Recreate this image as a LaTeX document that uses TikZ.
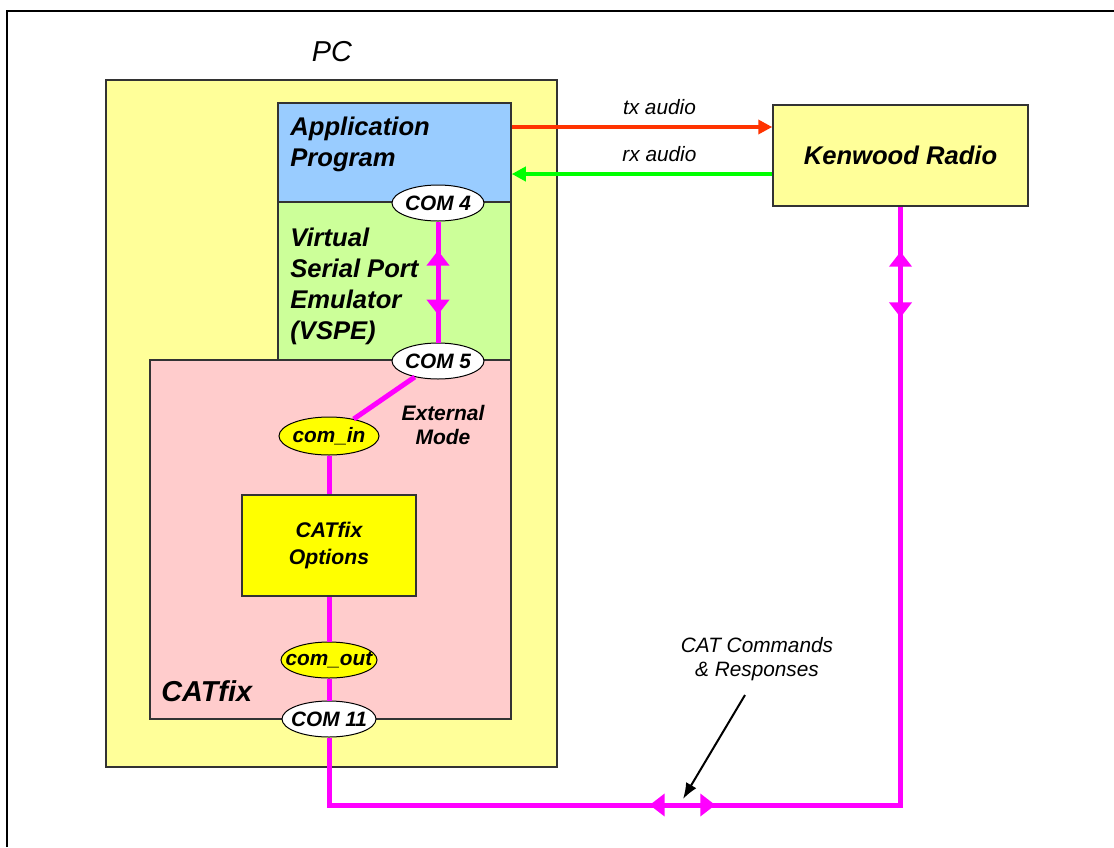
\documentclass[tikz,border=0pt]{standalone}
\usepackage{fontspec}
\setmainfont{Liberation Sans}
\usetikzlibrary{shapes.geometric,arrows.meta,decorations.markings,calc}
\definecolor{pcyellow}{HTML}{FFFF99}
\definecolor{appblue}{HTML}{99CCFF}
\definecolor{vspegreen}{HTML}{CCFF99}
\definecolor{catpink}{HTML}{FFCCCC}
\definecolor{optyellow}{HTML}{FFFF00}
\definecolor{txred}{HTML}{FF3300}
\definecolor{rxgreen}{HTML}{00FF00}
\definecolor{magline}{HTML}{FF00FF}
\definecolor{boxline}{HTML}{333333}
\begin{document}
\begin{tikzpicture}[x=0.5pt,y=-0.5pt,
  box/.style={rectangle, draw=boxline, line width=0.75pt, inner sep=0pt},
  port/.style={ellipse, draw=black, line width=0.5pt, fill=white, inner xsep=-12pt, inner ysep=-4pt,
    font=\fontsize{10.4}{13}\selectfont\bfseries\itshape},
  bigtext/.style={inner sep=0pt, align=left, font=\fontsize{12.8}{15.5}\selectfont\bfseries\itshape},
  smalltext/.style={inner sep=0pt, align=center, font=\fontsize{10.5}{12}\selectfont\bfseries\itshape},
  plaintext/.style={inner sep=0pt, align=center, font=\fontsize{10.4}{12}\selectfont\itshape},
  mag/.style={draw=magline, color=magline, line width=2.5pt},
  bi/.style 2 args={postaction={decorate, decoration={markings,
     mark=at position #1 with {\arrowreversed{Triangle[length=7.5pt,width=11pt]}},
     mark=at position #2 with {\arrow{Triangle[length=7.5pt,width=11pt]}}}}},
  audio/.style={line width=2pt, -{Triangle[length=7pt,width=7pt]}}
]
\useasboundingbox (0,0) rectangle (1114,847);
% outer frame
\draw[line width=1pt] (7,847) -- (7,11) -- (1114,11);

% boxes
\node[box, fill=pcyellow, minimum width=225.5pt, minimum height=343.5pt] (pc) at (331.5,423.5) {};
\node[box, fill=appblue, minimum width=116.5pt, minimum height=49.5pt] (app) at (394.5,152.5) {};
\node[box, fill=vspegreen, minimum width=116.5pt, minimum height=79pt] (vspe) at (394.5,281) {};
\node[box, fill=catpink, minimum width=180.5pt, minimum height=179.5pt] (catfix) at (330.5,539.5) {};
\node[box, fill=pcyellow, minimum width=127.5pt, minimum height=50.5pt, bigtext, align=center] (kenwood) at (900.5,155.5) {Kenwood Radio};

% texts
\node[inner sep=0pt, font=\fontsize{14.4}{17}\selectfont\itshape] (pctext) at (332,52) {PC};
\node[bigtext, anchor=north west] (apptext) at (290,117) {Application\\Program};
\node[bigtext, anchor=north west] (vspetext) at (290,228) {Virtual\\Serial Port\\Emulator\\(VSPE)};
\node[inner sep=0pt, anchor=north west, font=\fontsize{14.4}{17}\selectfont\bfseries\itshape] (catfixtext) at (161,680) {CATfix};
\node[smalltext] (exttext) at (443,425) {External\\Mode};
\node[plaintext] (cat) at (757,659) {CAT Commands\\\& Responses};

% magenta connectors
\coordinate (bl) at (329,805);
\coordinate (br) at (900.5,805);

\node[box, fill=optyellow, minimum width=87pt, minimum height=50.5pt, align=center,
  font=\fontsize{10.6}{13.5}\selectfont\bfseries\itshape] (options) at (329,545.5) {CATfix\\Options};
\node[port, minimum width=46pt, minimum height=18pt] (com4) at (438,203) {COM 4};
\node[port, minimum width=46pt, minimum height=18pt] (com5) at (438,361) {COM 5};
\node[port, fill=optyellow, minimum width=50pt, minimum height=19pt] (comin) at (329,436) {com\_in};
\node[port, fill=optyellow, minimum width=48pt, minimum height=18pt] (comout) at (329,660) {com\_out};
\node[port, minimum width=47pt, minimum height=18pt] (com11) at (329,719) {COM 11};

\draw[mag, bi={0.24}{0.77}] (com4) -- (com5);
\draw[mag] (com5) -- (comin);
\draw[mag] (comin) -- (options);
\draw[mag] (options) -- (comout);
\draw[mag] (comout) -- (com11);
\draw[mag, line join=miter] (com11) -- (bl) -- (br) -- (kenwood.south);
\draw[mag, bi={0.561}{0.676}] (bl) -- (br);
\draw[mag, bi={0.815}{0.925}] (br) -- (kenwood.south);

% audio
\coordinate (txa) at ($(app.east)+(0,-25.5)$);
\coordinate (rxa) at ($(kenwood.west)+(0,18.5)$);
\draw[audio, txred] (txa) -- (txa -| kenwood.west)
  node[plaintext, pos=0.567, above=5pt, text=black] (txlabel) {tx audio};
\draw[audio, rxgreen] (rxa) -- (rxa -| app.east)
  node[plaintext, pos=0.433, above=5pt, text=black] (rxlabel) {rx audio};

% pointer
\coordinate (ptrs) at (745,695);
\coordinate (ptre) at (683,799);
\draw[line width=1pt, -{Latex[length=8pt,width=6pt]}] (ptrs) -- (ptre);
\end{tikzpicture}
\end{document}
